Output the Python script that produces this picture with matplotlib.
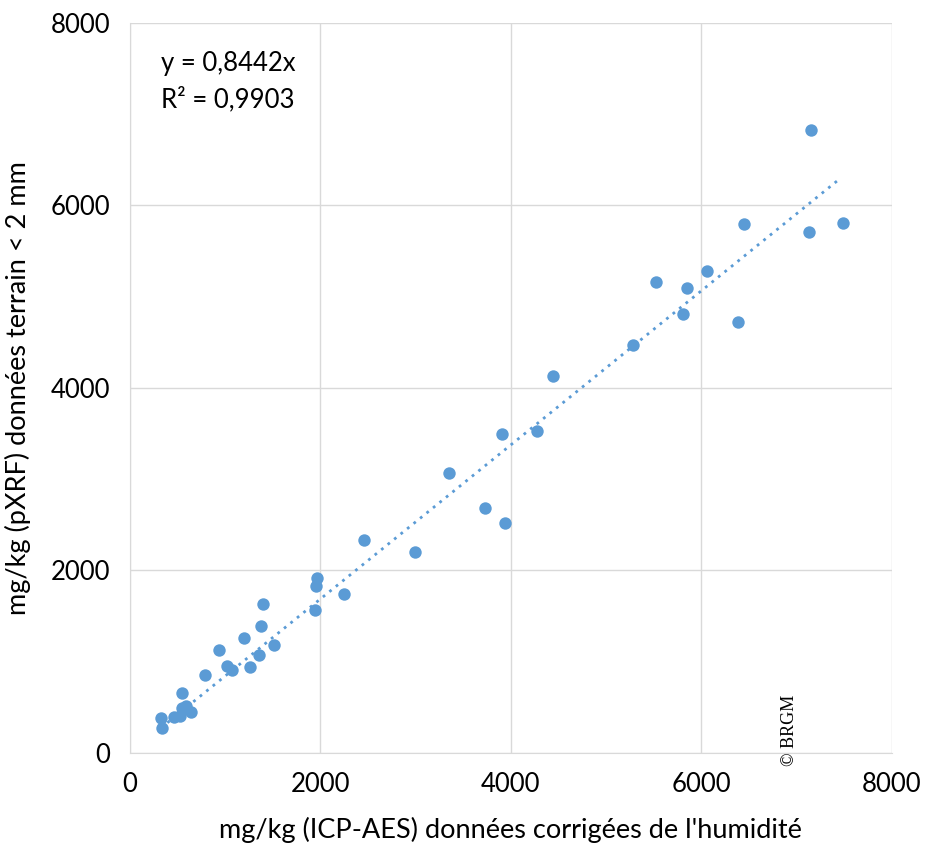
import matplotlib
matplotlib.use("Agg")
import matplotlib.pyplot as plt
import numpy as np

# ICP-AES (x) vs pXRF (y), mg/kg
icp = [325, 333, 465, 525, 542, 588, 637, 549, 784, 938, 1022, 1067, 1200,
       1263, 1354, 1372, 1400, 1515, 1946, 1949, 1963, 2243, 2457, 2992,
       3349, 3724, 3937, 3902, 4273, 4441, 5278, 5526, 5809, 5844, 6058,
       6387, 6450, 7129, 7146, 7483]
pxrf = [381, 278, 392, 407, 491, 516, 454, 663, 850, 1132, 949, 905, 1264,
        941, 1070, 1388, 1637, 1179, 1564, 1835, 1923, 1744, 2330, 2205,
        3066, 2685, 2524, 3495, 3524, 4132, 4469, 5165, 4806, 5092, 5286,
        4718, 5795, 5707, 6828, 5806]
slope = 0.8442
r2 = 0.9903

blue = "#5B9BD5"
plt.rcParams["font.family"] = ["Lato", "DejaVu Sans"]

fig = plt.figure(figsize=(9.31, 8.48), dpi=100)
ax = fig.add_axes([0.1396, 0.112, 0.8184, 0.861])

ax.scatter(icp, pxrf, s=80, color=blue, zorder=3, linewidths=0)
xt = np.array([min(icp), max(icp) - 40])
ax.plot(xt, slope * xt, color=blue, linestyle=(0, (1, 2)), linewidth=2, zorder=2)

ax.set_xlim(0, 8000)
ax.set_ylim(0, 8000)
ax.set_xticks([0, 2000, 4000, 6000, 8000])
ax.set_yticks([0, 2000, 4000, 6000, 8000])
ax.grid(True, color="#D9D9D9", linewidth=1)
ax.set_axisbelow(True)
for s in ["top", "right"]:
    ax.spines[s].set_visible(False)
for s in ["left", "bottom"]:
    ax.spines[s].set_color("#D9D9D9")
ax.tick_params(length=0, labelsize=18.5, pad=14)

ax.set_xlabel("mg/kg (ICP-AES) données corrigées de l'humidité", fontsize=19.5, labelpad=14)
ax.set_ylabel("mg/kg (pXRF) données terrain < 2 mm", fontsize=19.5, labelpad=14)

ax.text(0.041, 0.945, f"y = {slope:.4f}x".replace(".", ","), transform=ax.transAxes,
        fontsize=18.5, va="center")
ax.text(0.041, 0.895, f"R² = {r2:.4f}".replace(".", ","), transform=ax.transAxes,
        fontsize=18.5, va="center")

ax.text(0.865, -0.018, "© BRGM", transform=ax.transAxes, rotation=90,
        fontsize=13, family="Liberation Serif", ha="center", va="bottom")

fig.savefig("out.png", dpi=100)
